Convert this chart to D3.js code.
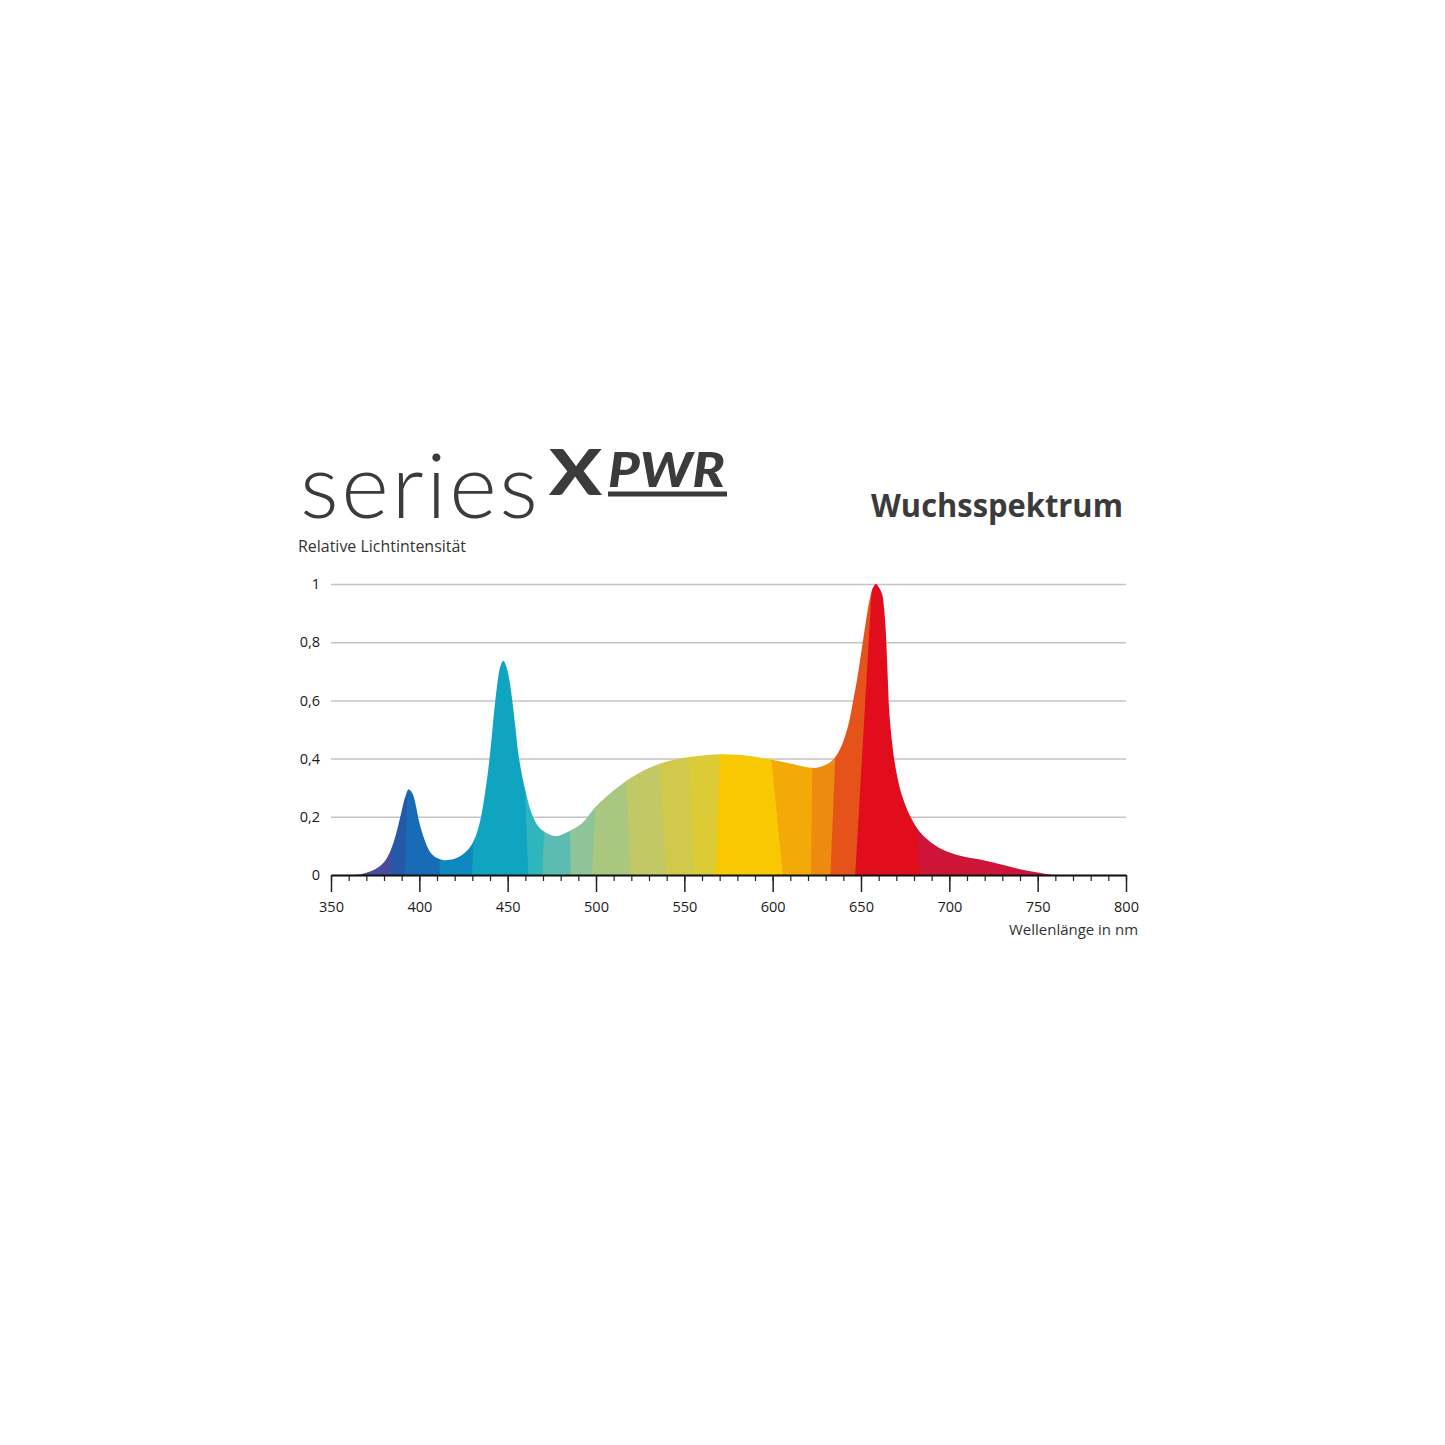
<!DOCTYPE html>
<html>
<head>
<meta charset="utf-8">
<script src="https://cdn.jsdelivr.net/npm/d3@7"></script>
<style>
  body { margin: 0; background: #fff; }
  svg { display: block; }
  .tick text { font-family: "Open Sans", sans-serif; font-size: 14.5px; fill: #1a1a1a; }
  .grid line { stroke: #c4c4c4; stroke-width: 1.5; }
</style>
</head>
<body>
<svg id="chart" width="1445" height="1445"></svg>
<script>
// spectrum envelope
const wavelength = [350, 360, 366, 370, 375, 380, 384, 387, 390, 392, 394, 396, 398, 400, 403, 406, 410, 414, 417, 420, 424, 428, 431, 434, 436, 438, 440, 442, 444, 446, 447.5, 449, 451, 452.6, 454.5, 456.2, 460, 464, 468, 473, 478, 484, 492, 500, 510, 520, 530, 540, 550, 560, 570, 580, 590, 600, 610, 618, 624, 628, 632, 636, 640, 643, 645.6, 648, 651, 653, 655, 657, 658.5, 660, 662, 663, 664, 665, 666, 667.5, 669, 671.5, 674.5, 678, 683, 690, 697, 705, 712, 720, 730, 740, 750, 760, 800];
const intensity = [0, 0, 0.002, 0.008, 0.02, 0.044, 0.088, 0.145, 0.22, 0.268, 0.294, 0.282, 0.24, 0.18, 0.12, 0.08, 0.058, 0.051, 0.052, 0.056, 0.068, 0.09, 0.12, 0.175, 0.235, 0.315, 0.415, 0.54, 0.65, 0.72, 0.736, 0.72, 0.67, 0.6, 0.5, 0.41, 0.29, 0.205, 0.162, 0.141, 0.134, 0.148, 0.177, 0.235, 0.29, 0.335, 0.368, 0.39, 0.403, 0.411, 0.415, 0.413, 0.406, 0.395, 0.383, 0.372, 0.368, 0.374, 0.385, 0.41, 0.46, 0.52, 0.6, 0.68, 0.8, 0.88, 0.95, 0.99, 1.0, 0.99, 0.965, 0.92, 0.84, 0.7, 0.56, 0.46, 0.39, 0.31, 0.25, 0.2, 0.15, 0.11, 0.085, 0.068, 0.058, 0.05, 0.035, 0.02, 0.009, 0, 0];

// colour facets: left edge at the base and at the top (nm), and fill
const bandBase = [350, 384, 392, 412, 430, 462, 470, 486, 498, 520, 540, 556, 568, 606, 622, 633, 647, 684];
const bandTop  = [350, 390, 398, 405, 438, 455, 476, 482, 506, 512, 530, 548, 574, 589, 624, 640, 657, 668];
const bandColor = ["#4a4b9d", "#2559a7", "#176cb5", "#0c88bf", "#0fa5c0", "#2fb5be", "#5dbcb1", "#8ec497", "#a9c77e", "#c2c866", "#d0c94c", "#dccb34", "#f8c802", "#f3a907", "#ed8a10", "#e5531a", "#e20d1c", "#cd1538"];

const xTicks = [350, 400, 450, 500, 550, 600, 650, 700, 750, 800];
const yTicks = [0, 0.2, 0.4, 0.6, 0.8, 1];

const svg = d3.select("#chart");
const x = d3.scaleLinear().domain([350, 800]).range([331, 1126]);
const y = d3.scaleLinear().domain([0, 1]).range([875, 584]);
const de = d3.formatLocale({ decimal: ",", thousands: ".", grouping: [3], currency: ["", "€"] });
const fmt = de.format("~g");

const spectrum = wavelength.map((nm, i) => ({ nm, v: intensity[i] }));

// grid + y labels
svg.append("g")
  .attr("class", "grid")
  .attr("transform", `translate(${x(350)},0)`)
  .call(d3.axisLeft(y).tickValues(yTicks).tickSize(-(x(800) - x(350))).tickPadding(11).tickFormat(fmt))
  .call(g => g.select(".domain").remove());

// spectrum area, clipped colour facets
const area = d3.area()
  .x(d => x(d.nm))
  .y0(y(0))
  .y1(d => y(d.v))
  .curve(d3.curveCatmullRom.alpha(0.5));

svg.append("clipPath").attr("id", "spec")
  .append("path").attr("d", area(spectrum));

const bands = bandColor.map((c, i) => ({
  b0: bandBase[i], t0: bandTop[i],
  b1: i + 1 < bandBase.length ? bandBase[i + 1] : 800,
  t1: i + 1 < bandTop.length ? bandTop[i + 1] : 800,
  c
}));

svg.append("g").attr("clip-path", "url(#spec)")
  .selectAll("path")
  .data(bands)
  .join("path")
  .attr("d", d => d3.line()([
    [x(d.b0) - 0.5, y(0)], [x(d.b1) + 0.5, y(0)],
    [x(d.t1) + 0.5, y(1.05)], [x(d.t0) - 0.5, y(1.05)]
  ]) + "Z")
  .attr("fill", d => d.c);

// x axis: minor then major ticks
svg.append("g")
  .attr("transform", `translate(0,${y(0)})`)
  .call(d3.axisBottom(x).ticks(45).tickSize(6).tickFormat(""))
  .call(g => g.selectAll("line").attr("stroke", "#222").attr("stroke-width", 1.2))
  .call(g => g.select(".domain").remove());

svg.append("g")
  .attr("transform", `translate(0,${y(0)})`)
  .call(d3.axisBottom(x).tickValues(xTicks).tickSize(17).tickPadding(10).tickSizeOuter(0))
  .call(g => g.selectAll("line").attr("stroke", "#222").attr("stroke-width", 1.5))
  .call(g => g.select(".domain").attr("stroke", "#111").attr("stroke-width", 2));

// texts
const dark = "#3b3b3b";
svg.append("text")
  .attr("x", 300).attr("y", 518)
  .attr("font-family", "Lato, sans-serif").attr("font-weight", 300)
  .attr("font-size", 91).attr("fill", dark)
  .attr("textLength", 238).attr("lengthAdjust", "spacing")
  .text("series");

svg.append("text")
  .attr("x", 549).attr("y", 495)
  .attr("font-family", "Lato, sans-serif").attr("font-weight", 900)
  .attr("font-size", 62).attr("fill", dark)
  .attr("textLength", 53).attr("lengthAdjust", "spacingAndGlyphs")
  .text("X");

svg.append("text")
  .attr("x", 608).attr("y", 487)
  .attr("font-family", "Lato, sans-serif").attr("font-weight", 900).attr("font-style", "italic")
  .attr("font-size", 48).attr("fill", dark)
  .attr("textLength", 117).attr("lengthAdjust", "spacingAndGlyphs")
  .text("PWR");

svg.append("rect")
  .attr("x", 608).attr("y", 491.5).attr("width", 119).attr("height", 5)
  .attr("fill", dark);

svg.append("text")
  .attr("x", 1123).attr("y", 517).attr("text-anchor", "end")
  .attr("font-family", "'Open Sans', sans-serif").attr("font-weight", 700)
  .attr("font-size", 33).attr("fill", dark)
  .attr("textLength", 252).attr("lengthAdjust", "spacingAndGlyphs")
  .text("Wuchsspektrum");

svg.append("text")
  .attr("x", 298).attr("y", 552)
  .attr("font-family", "'Open Sans', sans-serif")
  .attr("font-size", 15.5).attr("fill", "#333")
  .attr("textLength", 168).attr("lengthAdjust", "spacingAndGlyphs")
  .text("Relative Lichtintensität");

svg.append("text")
  .attr("x", 1138).attr("y", 935).attr("text-anchor", "end")
  .attr("font-family", "'Open Sans', sans-serif")
  .attr("font-size", 15).attr("fill", "#333")
  .attr("textLength", 129).attr("lengthAdjust", "spacingAndGlyphs")
  .text("Wellenlänge in nm");
</script>
</body>
</html>
